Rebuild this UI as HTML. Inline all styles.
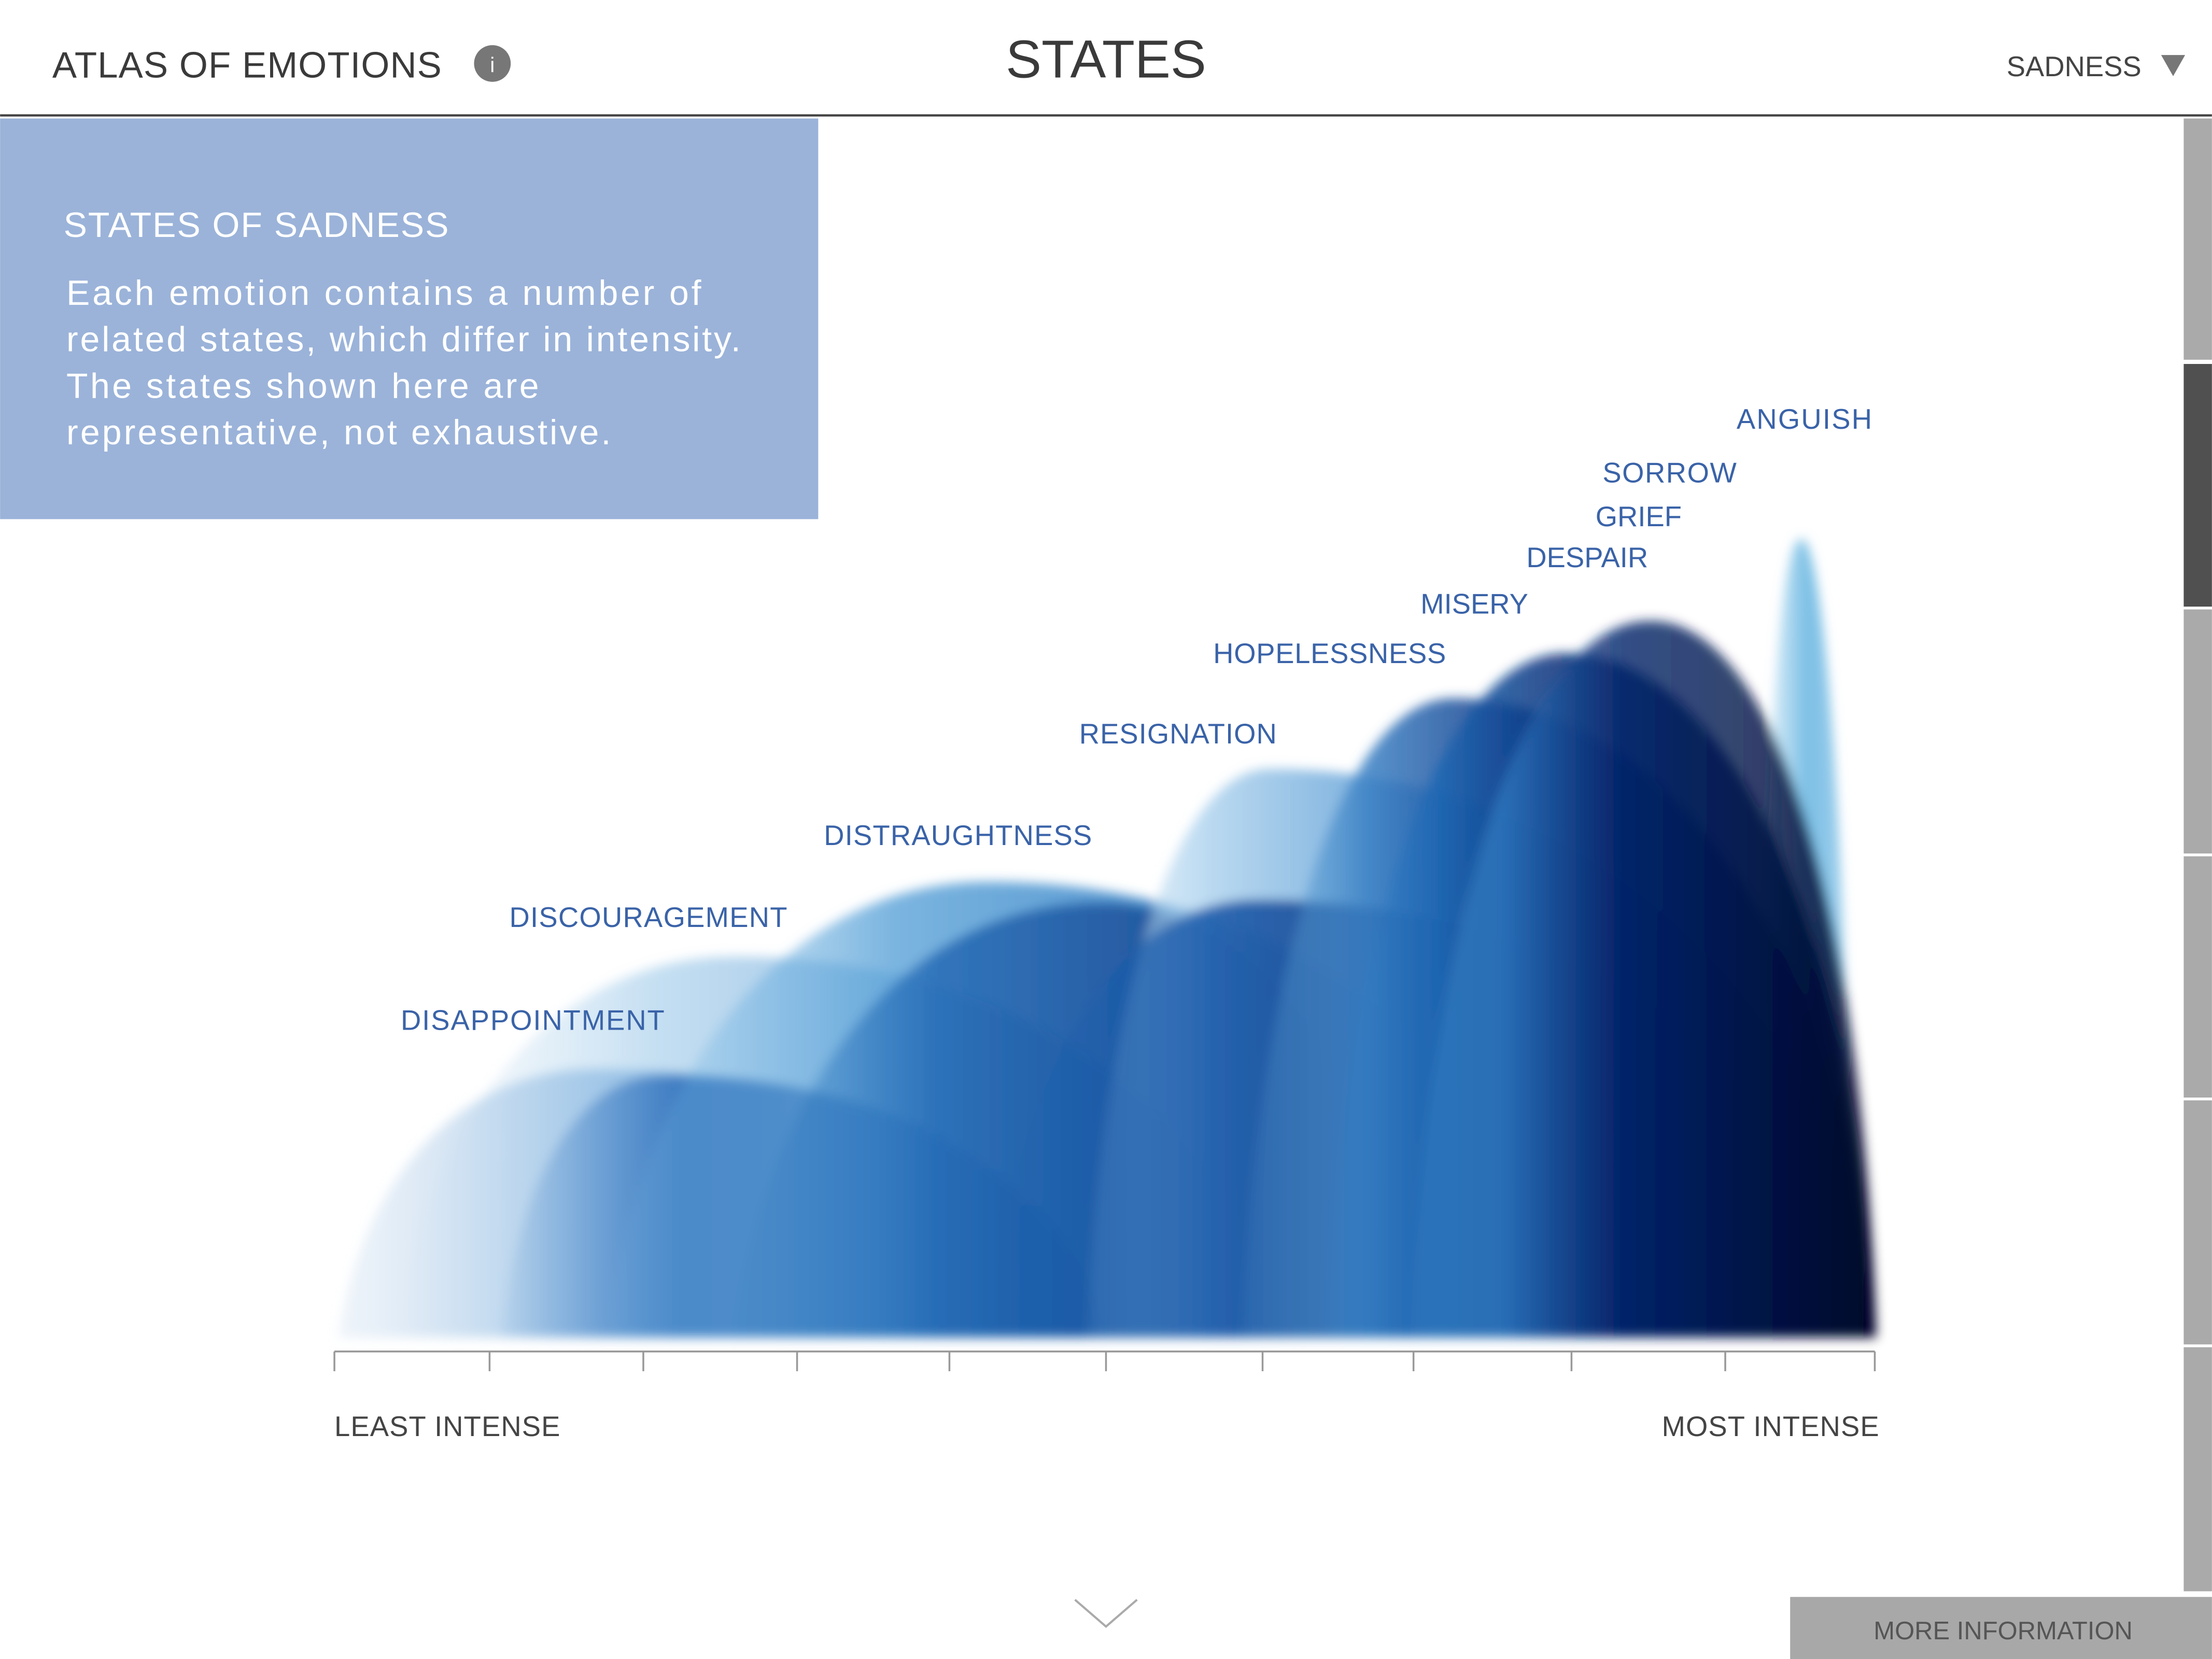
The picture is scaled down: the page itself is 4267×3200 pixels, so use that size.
<!DOCTYPE html>
<html><head><meta charset="utf-8"><style>
html,body{margin:0;padding:0;background:#fff;width:4267px;height:3200px;overflow:hidden}
svg{display:block}
text{font-family:"Liberation Sans",sans-serif}
</style></head><body>
<svg width="4267" height="3200" viewBox="0 0 1568 1176" xmlns="http://www.w3.org/2000/svg">
<defs>
<filter id="bl" x="-10%" y="-10%" width="120%" height="120%"><feGaussianBlur stdDeviation="4"/></filter>
<linearGradient id="ga"><stop offset="0" stop-color="#c8dcef" stop-opacity="0.3"/><stop offset="0.35" stop-color="#a8c8e8"/><stop offset="1" stop-color="#2a64b4"/></linearGradient>
<linearGradient id="gb"><stop offset="0" stop-color="#4f8ccc" stop-opacity="0.1"/><stop offset="0.3" stop-color="#2f70bc"/><stop offset="1" stop-color="#12348c"/></linearGradient>
<linearGradient id="gc"><stop offset="0" stop-color="#bcd8ee" stop-opacity="0"/><stop offset="0.3" stop-color="#8cc0e6" stop-opacity="0.6"/><stop offset="1" stop-color="#2470c0" stop-opacity="0.9"/></linearGradient>
<linearGradient id="gd"><stop offset="0" stop-color="#7dbde6" stop-opacity="0.1"/><stop offset="0.3" stop-color="#5aa2d8"/><stop offset="0.6" stop-color="#2a7cc4"/><stop offset="1" stop-color="#0a3288"/></linearGradient>
<linearGradient id="ge"><stop offset="0" stop-color="#2a78c0" stop-opacity="0.1"/><stop offset="0.3" stop-color="#1c62b0"/><stop offset="1" stop-color="#07236c"/></linearGradient>
<linearGradient id="gf"><stop offset="0" stop-color="#bcdcf0" stop-opacity="0.2"/><stop offset="0.15" stop-color="#acd2ee"/><stop offset="0.45" stop-color="#3c88cc"/><stop offset="1" stop-color="#0a2a78"/></linearGradient>
<linearGradient id="gg"><stop offset="0" stop-color="#1a62b0" stop-opacity="0.1"/><stop offset="0.25" stop-color="#1556a8"/><stop offset="0.6" stop-color="#0a2a70"/><stop offset="1" stop-color="#020a3a"/></linearGradient>
<linearGradient id="gh"><stop offset="0" stop-color="#6aaedc" stop-opacity="0.1"/><stop offset="0.2" stop-color="#3a80c4"/><stop offset="0.45" stop-color="#0a3080"/><stop offset="1" stop-color="#020a38"/></linearGradient>
<linearGradient id="gi"><stop offset="0" stop-color="#3a8ad0" stop-opacity="0.1"/><stop offset="0.2" stop-color="#1e68b4"/><stop offset="0.45" stop-color="#062a74"/><stop offset="1" stop-color="#020730"/></linearGradient>
<linearGradient id="gj"><stop offset="0" stop-color="#5aa4dc" stop-opacity="0.1"/><stop offset="0.2" stop-color="#2e78c0"/><stop offset="0.45" stop-color="#05246a"/><stop offset="1" stop-color="#010526"/></linearGradient>
<linearGradient id="gk"><stop offset="0" stop-color="#a8d6ef" stop-opacity="0.3"/><stop offset="0.5" stop-color="#6cb8e2"/><stop offset="1" stop-color="#5aacde" stop-opacity="0.6"/></linearGradient>
</defs>

<!-- header -->
<text x="37" y="55" font-size="26" fill="#3a3a3a" textLength="276">ATLAS OF EMOTIONS</text>
<circle cx="349" cy="45" r="13" fill="#777"/>
<text x="349" y="51" font-size="15" fill="#fff" text-anchor="middle">i</text>
<text x="784" y="55" font-size="38" fill="#3a3a3a" text-anchor="middle">STATES</text>
<text x="1518" y="54" font-size="20" fill="#444" text-anchor="end">SADNESS</text>
<polygon points="1532,39 1549,39 1540.5,54" fill="#777"/>
<rect x="0" y="81" width="1568" height="1.6" fill="#444"/>

<!-- blue box -->
<rect x="0" y="84" width="580" height="284" fill="#9bb3d9"/>
<text x="45" y="168" font-size="25" fill="#fff" textLength="273">STATES OF SADNESS</text>
<g font-size="25" fill="#fff">
<text x="47" y="216" textLength="450">Each emotion contains a number of</text>
<text x="47" y="249" textLength="478">related states, which differ in intensity.</text>
<text x="47" y="282" textLength="335">The states shown here are</text>
<text x="47" y="315" textLength="386">representative, not exhaustive.</text>
</g>

<!-- sidebar -->
<rect x="1548" y="84" width="20" height="171" fill="#aaa"/>
<rect x="1548" y="258" width="20" height="172" fill="#505050"/>
<rect x="1548" y="432" width="20" height="173" fill="#aaa"/>
<rect x="1548" y="607" width="20" height="171" fill="#aaa"/>
<rect x="1548" y="780" width="20" height="173" fill="#aaa"/>
<rect x="1548" y="955" width="20" height="173" fill="#aaa"/>

<!-- arches -->
<g filter="url(#bl)">
<path d="M1248,948 C1249,600 1258,382 1277,382 C1293,382 1311,600 1312,948Z" fill="url(#gk)" opacity="0.9"/>
<path d="M240,948 C255,843 321,758 420,758 C618,758 765,843 780,948Z" fill="url(#ga)"/>
<path d="M280,948 C300,799 388,678 520,678 C734,678 880,799 900,948Z" fill="url(#gc)" opacity="0.85"/>
<path d="M355,948 C365,845 407,762 470,762 C643,762 770,845 780,948Z" fill="url(#gb)" opacity="0.85"/>
<path d="M430,948 C450,770 551,625 700,625 C932,625 1090,770 1110,948Z" fill="url(#gd)" opacity="0.8"/>
<path d="M520,948 C540,778 636,640 780,640 C901,640 985,778 1000,948Z" fill="url(#ge)" opacity="0.75"/>
<path d="M770,948 C780,725 828,545 900,545 C1131,545 1315,725 1330,948Z" fill="url(#gf)" opacity="0.8"/>
<path d="M700,948 C715,777 785,638 890,638 C1132,638 1315,777 1330,948Z" fill="url(#gg)" opacity="0.85"/>
<path d="M880,948 C890,698 947,495 1030,495 C1190,495 1320,698 1330,948Z" fill="url(#gh)" opacity="0.85"/>
<path d="M940,948 C950,680 1016,463 1110,463 C1232,463 1320,680 1330,948Z" fill="url(#gi)" opacity="0.85"/>
<path d="M1000,948 C1010,667 1076,440 1170,440 C1263,440 1322,667 1330,948Z" fill="url(#gj)" opacity="0.8"/>
</g>

<!-- labels -->
<g font-size="20" fill="#3a63a8">
<text x="1231" y="304" textLength="96">ANGUISH</text>
<text x="1136" y="342" textLength="95">SORROW</text>
<text x="1131" y="373">GRIEF</text>
<text x="1082" y="402">DESPAIR</text>
<text x="1007" y="435">MISERY</text>
<text x="860" y="470" textLength="165">HOPELESSNESS</text>
<text x="765" y="527" textLength="140">RESIGNATION</text>
<text x="584" y="599" textLength="190">DISTRAUGHTNESS</text>
<text x="361" y="657" textLength="197">DISCOURAGEMENT</text>
<text x="284" y="730" textLength="187">DISAPPOINTMENT</text>
</g>

<!-- axis -->
<g stroke="#999" stroke-width="1.3" fill="none">
<line x1="237" y1="958" x2="1329" y2="958"/>
<line x1="237" y1="958" x2="237" y2="972"/><line x1="347" y1="958" x2="347" y2="972"/>
<line x1="456" y1="958" x2="456" y2="972"/><line x1="565" y1="958" x2="565" y2="972"/>
<line x1="673" y1="958" x2="673" y2="972"/><line x1="784" y1="958" x2="784" y2="972"/>
<line x1="895" y1="958" x2="895" y2="972"/><line x1="1002" y1="958" x2="1002" y2="972"/>
<line x1="1114" y1="958" x2="1114" y2="972"/><line x1="1223" y1="958" x2="1223" y2="972"/>
<line x1="1329" y1="958" x2="1329" y2="972"/>
</g>
<text x="237" y="1018" font-size="20" fill="#444" textLength="160">LEAST INTENSE</text>
<text x="1178" y="1018" font-size="20" fill="#444" textLength="154">MOST INTENSE</text>

<!-- bottom -->
<polyline points="762,1134 784,1153 806,1134" fill="none" stroke="#aaa" stroke-width="1.5"/>
<rect x="1269" y="1132" width="299" height="44" fill="#a8a8a8"/>
<text x="1420" y="1162" font-size="18" fill="#555" text-anchor="middle">MORE INFORMATION</text>
</svg>
</body></html>
